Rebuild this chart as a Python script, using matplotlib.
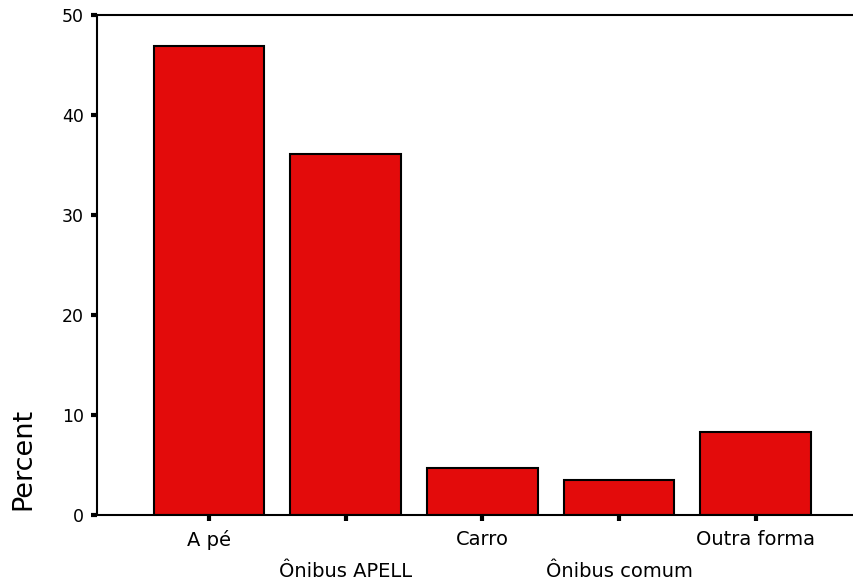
import numpy as np
import matplotlib.pyplot as plt

# Data
categories = ["A pé", "Ônibus APELL", "Carro", "Ônibus comum", "Outra forma"]
percent = [46.9, 36.1, 4.7, 3.5, 8.3]
yticks = [0, 10, 20, 30, 40, 50]

plt.rcParams['font.family'] = ['DejaVu Sans']

fig = plt.figure(figsize=(8.54, 5.84), dpi=100)
ax = fig.add_axes([0.1136, 0.118, 0.8864, 0.856])

x = np.arange(len(categories))
ax.bar(x, percent, width=0.81, color="#e30b0b", edgecolor="black", linewidth=1.5)

ax.set_xlim(-0.82, 4.72)
ax.set_ylim(0, 50)
ax.set_yticks(yticks)
ax.set_xticks(x)
ax.set_xticklabels(categories, fontsize=14)
ax.tick_params(axis="y", labelsize=12.5, length=4.5, width=3, pad=5)
ax.tick_params(axis="x", length=4, width=3)

# staggered category labels
for i, t in enumerate(ax.xaxis.get_major_ticks()):
    t.set_pad(7 if i % 2 == 0 else 30)

ax.spines["right"].set_visible(False)
for s in ["left", "top", "bottom"]:
    ax.spines[s].set_linewidth(1.5)

ax.set_ylabel("Percent", fontsize=19.5)
ax.yaxis.set_label_coords(-0.097, 0.01)
ax.yaxis.label.set_verticalalignment("center")
ax.yaxis.label.set_horizontalalignment("left")

fig.savefig("out.png", dpi=100)
